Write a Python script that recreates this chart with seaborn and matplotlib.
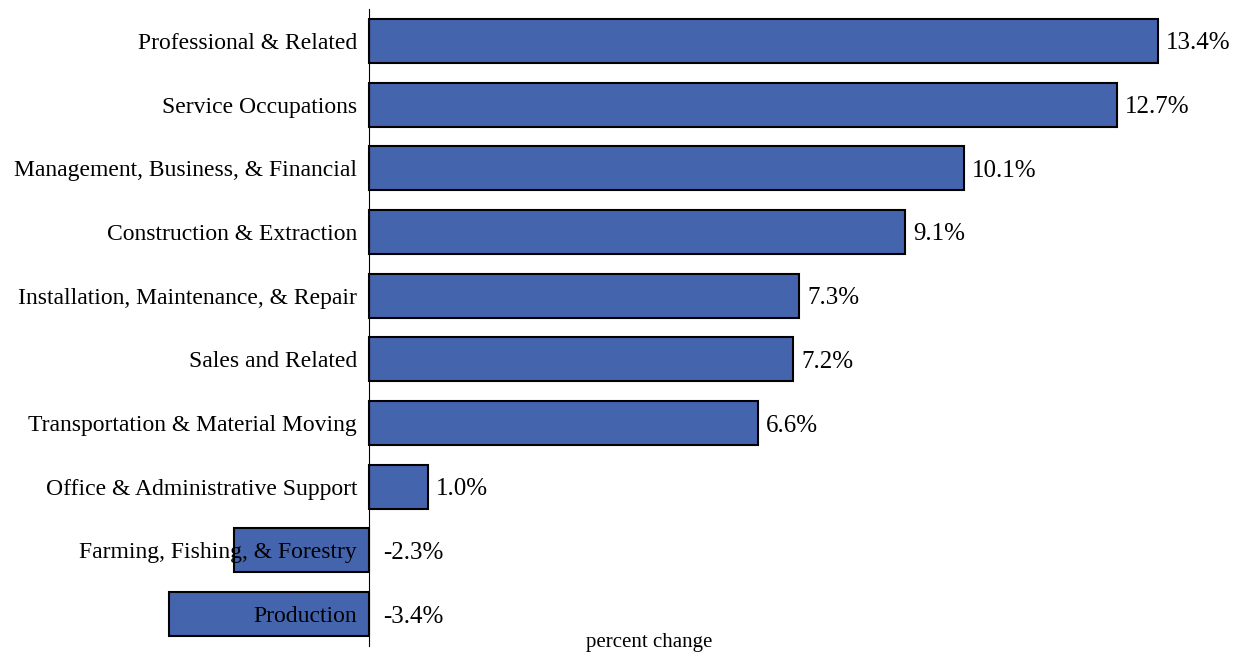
import pandas as pd
import matplotlib
matplotlib.use('Agg')
import matplotlib.pyplot as plt
import seaborn as sns

occupations = [
    'Professional & Related',
    'Service Occupations',
    'Management, Business, & Financial',
    'Construction & Extraction',
    'Installation, Maintenance, & Repair',
    'Sales and Related',
    'Transportation & Material Moving',
    'Office & Administrative Support',
    'Farming, Fishing, & Forestry',
    'Production',
]
pct_change = [13.4, 12.7, 10.1, 9.1, 7.3, 7.2, 6.6, 1.0, -2.3, -3.4]

df = pd.DataFrame({'occupation': occupations, 'pct': pct_change})

sns.set_style('white')
plt.rcParams['font.family'] = ['Liberation Serif', 'DejaVu Serif']
plt.rcParams['text.color'] = 'black'

fig = plt.figure(figsize=(12.33, 6.54), dpi=100)
ax = fig.add_axes([0, 8 / 654, 1, (646 - 9) / 654])

sns.barplot(
    data=df,
    x='pct',
    y='occupation',
    orient='h',
    color='#4464AE',
    saturation=1,
    edgecolor='black',
    linewidth=1.5,
    width=0.69,
    ax=ax,
)

ax.set_xlim(-369 / 58.88, (1233 - 369) / 58.88)
ax.set_ylim(9.5, -0.5)

# category labels sit just left of the zero line, over the negative bars
for i, (name, val) in enumerate(zip(occupations, pct_change)):
    ax.text(-0.2, i + 0.04, name, ha='right', va='center', fontsize=17, color='black', zorder=5)
    if val >= 0:
        ax.text(val + 0.14, i + 0.04, f'{val:.1f}%', ha='left', va='center', fontsize=18, color='black')
    else:
        ax.text(0.24, i + 0.04, f'{val:.1f}%', ha='left', va='center', fontsize=18, color='black')

for side in ['top', 'right', 'bottom']:
    ax.spines[side].set_visible(False)
ax.spines['left'].set_position(('data', 0))
ax.spines['left'].set_color('black')
ax.spines['left'].set_linewidth(0.8)
ax.set_xticks([])
ax.set_yticks([])
ax.set_xlabel('')
ax.set_ylabel('')

fig.text(649 / 1233, 1 - 643 / 654, 'percent change', ha='center', va='center', fontsize=15, color='black')

fig.savefig('out.png', dpi=100)
